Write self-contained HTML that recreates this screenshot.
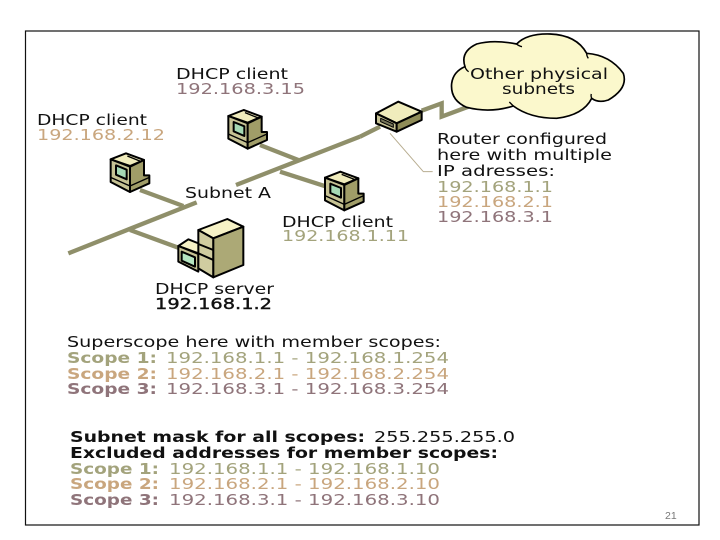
<!DOCTYPE html>
<html>
<head>
<meta charset="utf-8">
<style>
html,body{margin:0;padding:0;background:#fff;width:720px;height:540px;overflow:hidden}
svg{display:block}
text{font-family:"DejaVu Sans","Liberation Sans",sans-serif;font-size:15px;fill:#111}
.o{fill:#a3a37c}.t{fill:#c9a67e}.m{fill:#8f747a}
.b{font-weight:bold}
</style>
</head>
<body>
<svg width="720" height="540" viewBox="0 0 720 540" xmlns="http://www.w3.org/2000/svg">
<defs>
<g id="pc" stroke="#000" stroke-width="6" stroke-linejoin="round">
  <polygon points="272,418 318,400 372,420 330,438" fill="#f0ecbc"/>
  <polygon points="272,418 330,440 330,516 272,486" fill="#c6c294"/>
  <polygon points="330,440 372,420 372,466 388,466 388,490 330,516" fill="#a09d68"/>
  <polygon points="288,436 320,449 320,478 288,464" fill="#a5d8b4"/>
  <path d="M272,472 L330,498 L388,472 M322,408 L362,424" fill="none" stroke-width="4"/>
</g>
</defs>
<rect x="25.5" y="31" width="673.5" height="494" fill="#fff" stroke="#111" stroke-width="1.2"/>

<g transform="translate(20,20) scale(.33333)">
  <g fill="none" stroke="#8f8f6a" stroke-width="13">
    <path d="M145,700 L530,547"/>
    <path d="M648,495 L1020,350"/>
    <path d="M360,510 L490,558"/>
    <path d="M330,630 L480,685"/>
    <path d="M720,375 L835,420"/>
    <path d="M780,455 L920,500"/>
  </g>
  <use href="#pc"/>
  <use href="#pc" transform="translate(353,-130)"/>
  <use href="#pc" transform="translate(643,55)"/>
  <g stroke="#000" stroke-width="6" stroke-linejoin="round">
    <polygon points="475,678 505,658 540,672 535,700" fill="#f6f2c6"/>
    <polygon points="475,678 535,702 535,755 475,725" fill="#c6c294"/>
    <polygon points="485,695 525,712 525,740 485,722" fill="#b5e4c0"/>
    <polygon points="535,630 622,597 670,620 580,655" fill="#f6f2c6"/>
    <polygon points="535,630 580,655 580,772 535,745" fill="#d0cca0"/>
    <polygon points="580,655 670,620 670,735 580,772" fill="#aca976"/>
    <path d="M535,672 L580,690 M535,700 L580,720" fill="none"/>
  </g>
</g>

<g transform="translate(360,20) scale(.33333)">
  <path d="M0,350 L60,320" stroke="#8f8f6a" stroke-width="13" fill="none"/>
  <path d="M185,272 L245,250 L245,290 L325,260" stroke="#8f8f6a" stroke-width="13" fill="none"/>
  <path d="M90,340 L190,455 L218,455" stroke="#b8ad90" stroke-width="3" fill="none"/>
  <g stroke="#000" stroke-width="6" stroke-linejoin="round">
    <polygon points="48,280 115,245 185,275 110,310" fill="#f0ecbc"/>
    <polygon points="48,280 110,310 110,335 48,310" fill="#c6c294"/>
    <polygon points="110,310 185,275 185,300 110,335" fill="#8f8c58"/>
    <polygon points="62,295 100,312 100,322 62,305" fill="#77765a" stroke-width="3"/>
  </g>
  <path d="M320,262 Q270,240 275,190 Q280,155 315,140 Q300,95 350,72 Q400,58 470,72 Q500,40 570,42 Q650,45 680,100 Q750,105 790,160 Q805,205 745,240 Q715,250 695,235 Q670,285 590,295 Q510,295 460,258 Q390,280 320,262 Z" fill="#fbf8cc" stroke="#000" stroke-width="5"/>
  <path d="M315,140 Q318,150 326,155 M470,72 Q476,78 486,80 M680,100 Q680,108 685,115 M695,235 Q692,228 694,222 M460,258 Q452,250 448,246" fill="none" stroke="#000" stroke-width="4"/>
</g>

<text x="176" y="79" textLength="112" lengthAdjust="spacingAndGlyphs">DHCP client</text>
<text class="m" x="176" y="94" textLength="129" lengthAdjust="spacingAndGlyphs">192.168.3.15</text>
<text x="37" y="125" textLength="110" lengthAdjust="spacingAndGlyphs">DHCP client</text>
<text class="t" x="37" y="140" textLength="128" lengthAdjust="spacingAndGlyphs">192.168.2.12</text>
<text x="185" y="198" textLength="86" lengthAdjust="spacingAndGlyphs">Subnet A</text>
<text x="282" y="227" textLength="111" lengthAdjust="spacingAndGlyphs">DHCP client</text>
<text class="o" x="282" y="241" textLength="127" lengthAdjust="spacingAndGlyphs">192.168.1.11</text>
<text x="155" y="294" textLength="119" lengthAdjust="spacingAndGlyphs">DHCP server</text>
<text x="155" y="309" textLength="117" lengthAdjust="spacingAndGlyphs" stroke="#111" stroke-width=".4">192.168.1.2</text>

<text x="470" y="79" textLength="138" lengthAdjust="spacingAndGlyphs">Other physical</text>
<text x="502" y="94" textLength="73" lengthAdjust="spacingAndGlyphs">subnets</text>
<text x="437" y="144" textLength="170" lengthAdjust="spacingAndGlyphs">Router configured</text>
<text x="437" y="160" textLength="175" lengthAdjust="spacingAndGlyphs">here with multiple</text>
<text x="437" y="176" textLength="118" lengthAdjust="spacingAndGlyphs">IP adresses:</text>
<text class="o" x="437" y="192" textLength="116" lengthAdjust="spacingAndGlyphs">192.168.1.1</text>
<text class="t" x="437" y="207" textLength="116" lengthAdjust="spacingAndGlyphs">192.168.2.1</text>
<text class="m" x="437" y="222" textLength="116" lengthAdjust="spacingAndGlyphs">192.168.3.1</text>

<text x="67" y="347" textLength="374" lengthAdjust="spacingAndGlyphs">Superscope here with member scopes:</text>
<text class="o b" x="67" y="363" textLength="90" lengthAdjust="spacingAndGlyphs">Scope 1:</text>
<text class="o" x="166" y="363" textLength="283" lengthAdjust="spacingAndGlyphs">192.168.1.1 - 192.168.1.254</text>
<text class="t b" x="67" y="379" textLength="90" lengthAdjust="spacingAndGlyphs">Scope 2:</text>
<text class="t" x="166" y="379" textLength="283" lengthAdjust="spacingAndGlyphs">192.168.2.1 - 192.168.2.254</text>
<text class="m b" x="67" y="394" textLength="90" lengthAdjust="spacingAndGlyphs">Scope 3:</text>
<text class="m" x="166" y="394" textLength="283" lengthAdjust="spacingAndGlyphs">192.168.3.1 - 192.168.3.254</text>

<text class="b" x="70" y="442" textLength="295" lengthAdjust="spacingAndGlyphs">Subnet mask for all scopes:</text>
<text x="374" y="442" textLength="141" lengthAdjust="spacingAndGlyphs">255.255.255.0</text>
<text class="b" x="70" y="458" textLength="428" lengthAdjust="spacingAndGlyphs">Excluded addresses for member scopes:</text>
<text class="o b" x="70" y="474" textLength="89" lengthAdjust="spacingAndGlyphs">Scope 1:</text>
<text class="o" x="169" y="474" textLength="271" lengthAdjust="spacingAndGlyphs">192.168.1.1 - 192.168.1.10</text>
<text class="t b" x="70" y="489" textLength="89" lengthAdjust="spacingAndGlyphs">Scope 2:</text>
<text class="t" x="169" y="489" textLength="271" lengthAdjust="spacingAndGlyphs">192.168.2.1 - 192.168.2.10</text>
<text class="m b" x="70" y="505" textLength="89" lengthAdjust="spacingAndGlyphs">Scope 3:</text>
<text class="m" x="169" y="505" textLength="271" lengthAdjust="spacingAndGlyphs">192.168.3.1 - 192.168.3.10</text>

<text x="665" y="519" style="font-family:'Liberation Sans',sans-serif;font-size:10.5px;fill:#777">21</text>
</svg>
</body>
</html>
